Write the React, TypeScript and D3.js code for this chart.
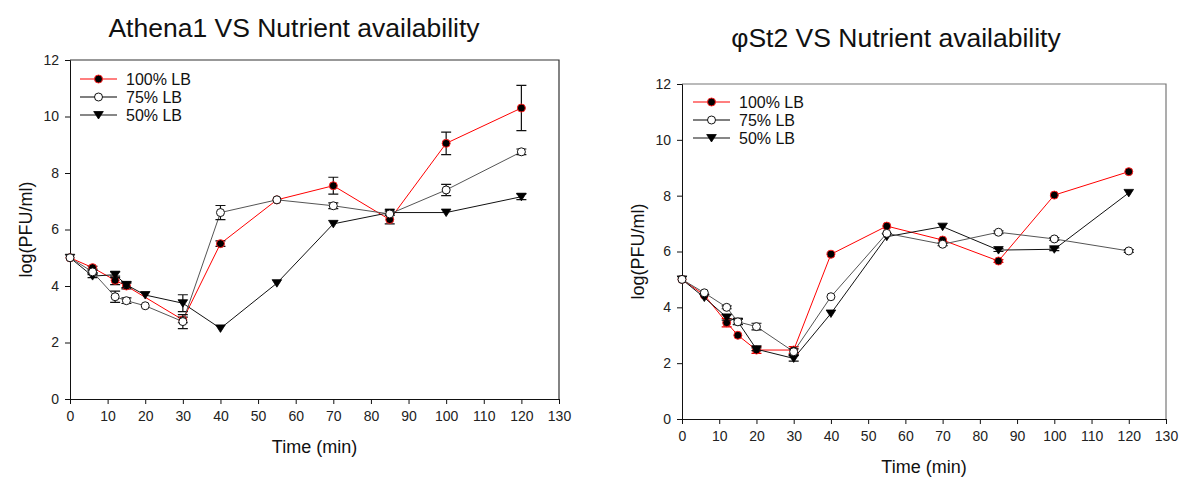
import React, { useEffect, useRef } from 'react';
import * as d3 from 'd3';

// time points (min)
const times = [0, 6, 12, 15, 20, 30, 40, 55, 70, 85, 100, 120];
const xTicks = [0, 10, 20, 30, 40, 50, 60, 70, 80, 90, 100, 110, 120, 130];
const yTicks = [0, 2, 4, 6, 8, 10, 12];
const seriesNames = ['100% LB', '75% LB', '50% LB'];

// Athena1 - log(PFU/ml), null = no point
const athena100 = [5.0, 4.65, 4.2, 4.0, null, 2.8, 5.5, 7.05, 7.55, 6.35, 9.05, 10.3];
const athena100Err = [0, 0.05, 0.15, 0.1, 0, 0.1, 0.1, 0, 0.3, 0.15, 0.4, 0.8];
const athena75 = [5.0, 4.5, 3.62, 3.48, 3.3, 2.74, 6.6, 7.05, 6.84, 6.55, 7.4, 8.75];
const athena75Err = [0, 0.05, 0.2, 0.1, 0, 0.25, 0.25, 0, 0.1, 0, 0.2, 0.1];
const athena50 = [5.0, 4.35, 4.4, 4.04, 3.68, 3.39, 2.5, 4.1, 6.2, 6.6, 6.6, 7.16];
const athena50Err = [0, 0.05, 0.1, 0.1, 0, 0.3, 0, 0, 0, 0.05, 0, 0.1];

// phiSt2 - log(PFU/ml)
const phi100 = [5.0, 4.44, 3.45, 3.0, 2.47, 2.47, 5.9, 6.91, 6.41, 5.66, 8.02, 8.86];
const phi100Err = [0, 0, 0.15, 0, 0.12, 0.12, 0, 0, 0, 0.05, 0, 0];
const phi75 = [5.0, 4.52, 4.0, 3.48, 3.31, 2.41, 4.38, 6.65, 6.26, 6.69, 6.45, 6.02];
const phi75Err = [0, 0, 0.05, 0.1, 0.12, 0.1, 0, 0, 0.05, 0.05, 0.05, 0.05];
const phi50 = [5.0, 4.35, 3.64, 3.49, 2.5, 2.17, 3.78, 6.53, 6.89, 6.05, 6.08, 8.1];
const phi50Err = [0, 0, 0.1, 0.1, 0.05, 0.1, 0, 0, 0, 0.05, 0.05, 0];

const font = '"Liberation Sans", Arial, sans-serif';

type Panel = {
  title: string;
  titleX: number;
  titleY: number;
  left: number;
  right: number;
  top: number;
  bottom: number;
  values: (number | null)[][];
  errors: number[][];
  legendX: number;
  legendY: number;
  frameColor: string;
};

const panels: Panel[] = [
  {
    title: 'Athena1 VS Nutrient availability', titleX: 294, titleY: 37,
    left: 70, right: 559, top: 60, bottom: 399,
    values: [athena50, athena75, athena100], errors: [athena50Err, athena75Err, athena100Err],
    legendX: 80, legendY: 79, frameColor: '#333'
  },
  {
    title: '\u03c6St2 VS Nutrient availability', titleX: 896, titleY: 47,
    left: 682, right: 1166, top: 84, bottom: 419,
    values: [phi50, phi75, phi100], errors: [phi50Err, phi75Err, phi100Err],
    legendX: 693, legendY: 102, frameColor: '#777'
  }
];

// index 0 = 50%, 1 = 75%, 2 = 100%
const lineColors = ['#111', '#555', '#ff0000'];
const drawOrder = [2, 0, 1];

function drawMarker(g: any, kind: number, x: number, y: number) {
  if (kind === 2) {
    g.append('circle').attr('cx', x).attr('cy', y).attr('r', 4)
      .attr('fill', '#000').attr('stroke', '#ff2020').attr('stroke-width', 1);
  } else if (kind === 1) {
    g.append('circle').attr('cx', x).attr('cy', y).attr('r', 4)
      .attr('fill', '#fff').attr('stroke', '#111').attr('stroke-width', 1);
  } else {
    g.append('path')
      .attr('d', `M${x - 4.8},${y - 3.5}L${x + 4.8},${y - 3.5}L${x},${y + 4}Z`)
      .attr('fill', '#000').attr('stroke', '#000').attr('stroke-width', 0.8);
  }
}

function drawPanel(svg: any, p: Panel) {
  const x = d3.scaleLinear().domain([0, 130]).range([p.left, p.right]);
  const y = d3.scaleLinear().domain([0, 12]).range([p.bottom, p.top]);

  // title
  svg.append('text')
    .attr('x', p.titleX).attr('y', p.titleY)
    .attr('text-anchor', 'middle')
    .style('font-family', font).style('font-size', '26.5px').style('fill', '#111')
    .text(p.title);

  // frame top and right
  svg.append('path')
    .attr('d', `M${p.left},${p.top}H${p.right}V${p.bottom}`)
    .attr('fill', 'none').attr('stroke', p.frameColor).attr('stroke-width', 1.2);

  // x axis
  const gx = svg.append('g')
    .attr('transform', `translate(0,${p.bottom})`)
    .call(d3.axisBottom(x).tickValues(xTicks).tickSizeOuter(0).tickSize(5).tickPadding(7));
  gx.selectAll('text').style('font-family', font).style('font-size', '14px').style('fill', '#222');
  gx.selectAll('line, path').attr('stroke', '#111');

  // y axis
  const gy = svg.append('g')
    .attr('transform', `translate(${p.left},0)`)
    .call(d3.axisLeft(y).tickValues(yTicks).tickSizeOuter(0).tickSize(5).tickPadding(6));
  gy.selectAll('text').style('font-family', font).style('font-size', '14px').style('fill', '#222');
  gy.selectAll('line, path').attr('stroke', '#111');

  // axis titles
  svg.append('text')
    .attr('x', (p.left + p.right) / 2).attr('y', p.bottom + 54)
    .attr('text-anchor', 'middle')
    .style('font-family', font).style('font-size', '18px').style('fill', '#111')
    .text('Time (min)');
  svg.append('text')
    .attr('transform', `translate(${p.left - 38},${(p.top + p.bottom) / 2}) rotate(-90)`)
    .attr('text-anchor', 'middle')
    .style('font-family', font).style('font-size', '18px').style('fill', '#111')
    .text('log(PFU/ml)');

  const line = d3.line<any>()
    .x((d: any) => x(d.t))
    .y((d: any) => y(d.v));

  drawOrder.forEach(function (k) {
    const vals = p.values[k];
    const pts = times.map((t, i) => ({ t: t, v: vals[i], e: p.errors[k][i] })).filter(d => d.v !== null);
    const g = svg.append('g');
    g.append('path')
      .datum(pts)
      .attr('d', line)
      .attr('fill', 'none')
      .attr('stroke', lineColors[k])
      .attr('stroke-width', 1);
    // error bars
    pts.forEach(function (d: any) {
      if (d.e > 0.04) {
        const cx = x(d.t);
        const y1 = y(d.v + d.e), y2 = y(d.v - d.e);
        const col = k === 2 && p.left > 600 ? '#e00' : '#111';
        g.append('path')
          .attr('d', `M${cx},${y1}V${y2}M${cx - 5},${y1}H${cx + 5}M${cx - 5},${y2}H${cx + 5}`)
          .attr('fill', 'none').attr('stroke', col).attr('stroke-width', 1.2);
      }
    });
    pts.forEach(function (d: any) {
      drawMarker(g, k, x(d.t), y(d.v));
    });
  });

  // legend
  seriesNames.forEach(function (name, i) {
    const k = 2 - i;
    const ly = p.legendY + i * 18;
    svg.append('line')
      .attr('x1', p.legendX).attr('x2', p.legendX + 37)
      .attr('y1', ly).attr('y2', ly)
      .attr('stroke', lineColors[k]).attr('stroke-width', k === 1 ? 1.6 : 1.2);
    drawMarker(svg, k, p.legendX + 18.5, ly);
    svg.append('text')
      .attr('x', p.legendX + 46).attr('y', ly + 5.5)
      .style('font-family', font).style('font-size', '16px').style('fill', '#111')
      .text(name);
  });
}

export default function App() {
  const ref = useRef<SVGSVGElement>(null);

  useEffect(() => {
    const svg = d3.select(ref.current);
    svg.selectAll('*').remove();
    panels.forEach(p => drawPanel(svg, p));
  }, []);

  return (
    <svg ref={ref} width={1189} height={478}
      style={{ position: 'absolute', left: 0, top: 0, background: '#fff' }} />
  );
}
